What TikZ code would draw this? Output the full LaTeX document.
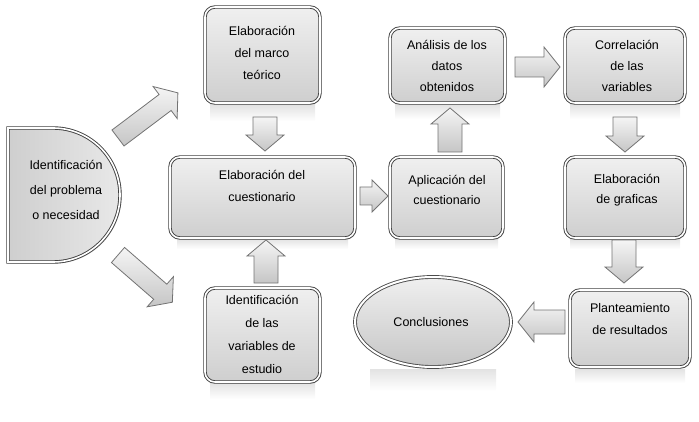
\documentclass[tikz,border=0pt]{standalone}
\usepackage{fontspec}
\setmainfont{Liberation Sans}
\usetikzlibrary{shadows,shapes.geometric}
\tikzset{
  box/.style={rounded corners=10pt, draw=black!75, line width=0.9pt, double=white, double distance=1.6pt,
    top color=gray!12, bottom color=gray!38, drop shadow={opacity=0.25, shadow xshift=1.5pt, shadow yshift=-1.5pt}},
  txt/.style={align=center, font=\fontsize{12.5}{22}\selectfont, text=black},
  barrow/.style={draw=black!55, line width=0.8pt, top color=gray!8, bottom color=gray!45},
  refl/.style={top color=gray!22, bottom color=white, draw=none}
}
\newcommand\blockarrow[6]{% x y angle length shafthalf headhalf
\begin{scope}[shift={(#1,#2)},rotate=#3]
\path[barrow] (0,-#5) -- ({#4-16},-#5) -- ({#4-16},-#6) -- (#4,0) -- ({#4-16},#6) -- ({#4-16},#5) -- (0,#5) -- cycle;
\end{scope}}
\begin{document}
\begin{tikzpicture}[x=1pt,y=1pt]
\useasboundingbox (0,0) rectangle (699,421);
% reflections
\shade[refl] (210,316) rectangle (315,300);
\shade[refl] (395,316) rectangle (500,302);
\shade[refl] (570,316) rectangle (680,302);
\shade[refl] (210,38) rectangle (315,22);
\shade[refl] (575,52) rectangle (685,38);
\shade[refl] (177,182) rectangle (348,172);
\shade[refl] (395,182) rectangle (498,172);
\shade[refl] (570,182) rectangle (680,172);
\shade[refl] (370,52) rectangle (496,30);
% left shape
\path[draw=black!75, line width=0.9pt, double=white, double distance=1.6pt, left color=gray!38, right color=gray!18,
  drop shadow={opacity=0.25, shadow xshift=1.5pt, shadow yshift=-1.5pt}]
  (8,293) -- (53,293) arc[start angle=90, end angle=-90, radius=67] -- (8,159) -- cycle;
\node[txt, font=\fontsize{12.5}{25}\selectfont] (ident) at (66,231) {Identificación\\del problema\\o necesidad};
% boxes
\node[box, minimum width=115pt, minimum height=96pt] (marco) at (262.5,366) {};
\node[txt] (tmarco) at (262,368.5) {Elaboración\\del marco\\teórico};
\node[box, minimum width=185pt, minimum height=81pt] (cues) at (262.5,223.5) {};
\node[txt] (tcues) at (262,235) {Elaboración del\\cuestionario};
\node[box, minimum width=115pt, minimum height=94pt] (vars) at (262.5,86) {};
\node[txt, font=\fontsize{12.5}{23}\selectfont] (tvars) at (262,86.5) {Identificación\\de las\\variables de\\estudio};
\node[box, minimum width=113pt, minimum height=81pt] (aplic) at (446.5,223.5) {};
\node[txt, font=\fontsize{12.5}{20}\selectfont] (taplic) at (447,231) {Aplicación del\\cuestionario};
\node[box, minimum width=115pt, minimum height=75pt] (anal) at (447.5,355.5) {};
\node[txt, font=\fontsize{12.5}{21}\selectfont] (tanal) at (447,355) {Análisis de los\\datos\\obtenidos};
\node[box, minimum width=120pt, minimum height=75pt] (correl) at (625,355.5) {};
\node[txt, font=\fontsize{12.5}{21}\selectfont] (tcorrel) at (627,355) {Correlación\\de las\\variables};
\node[box, minimum width=120pt, minimum height=81pt] (graf) at (625,223.5) {};
\node[txt, font=\fontsize{12.5}{20}\selectfont] (tgraf) at (627,231) {Elaboración\\de graficas};
\node[box, minimum width=120pt, minimum height=77pt] (plant) at (630,92.5) {};
\node[txt] (tplant) at (630,102) {Planteamiento\\de resultados};
\node[ellipse, draw=black!70, line width=0.9pt, double=white, double distance=2pt, top color=gray!12, bottom color=gray!45,
  minimum width=156pt, minimum height=90pt, drop shadow={opacity=0.25, shadow xshift=1.5pt, shadow yshift=-1.5pt}] (concl) at (433,99) {};
\node[txt] (tconcl) at (431,99) {Conclusiones};
% block arrows
\blockarrow{118}{283}{37}{75}{10}{20}
\blockarrow{118}{166}{-41}{72}{10}{20}
\blockarrow{265}{304}{-90}{34}{12}{19}
\blockarrow{266}{138}{90}{43}{12}{19}
\blockarrow{360}{225}{0}{28}{9}{16}
\blockarrow{450}{269}{90}{44}{12}{19}
\blockarrow{515}{354}{0}{45}{10}{20}
\blockarrow{625}{304}{-90}{35}{12}{19}
\blockarrow{624}{181}{-90}{43}{12}{19}
\blockarrow{565}{99}{180}{47}{12}{20}
\end{tikzpicture}
\end{document}
